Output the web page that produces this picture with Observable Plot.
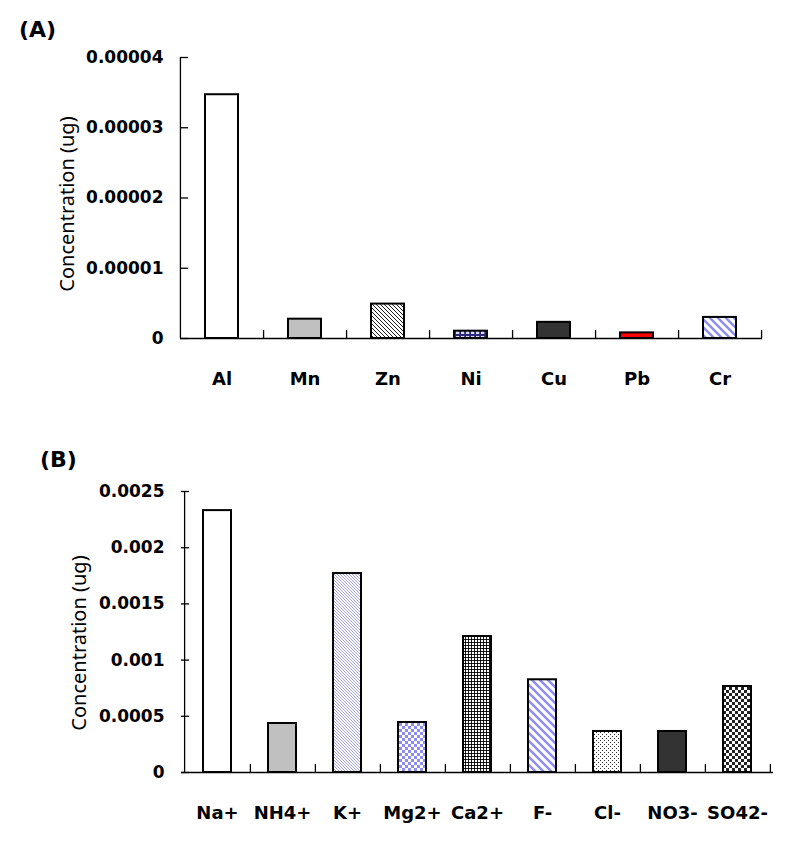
<!DOCTYPE html>
<html><head><meta charset="utf-8">
<script src="https://cdn.jsdelivr.net/npm/d3@7"></script>
<script src="https://cdn.jsdelivr.net/npm/@observablehq/plot@0.6"></script>
<style>
body{margin:0;background:#fff;}
#wrap{position:relative;width:797px;height:848px;overflow:hidden;background:#fff;}
.panel{position:absolute;left:0;}
.tag{position:absolute;font-family:"DejaVu Sans",sans-serif;font-weight:bold;font-size:22px;line-height:1;color:#000;}
</style></head><body>
<div id="wrap">
  <div class="panel" id="pa" style="top:0px"></div>
  <div class="tag" style="left:19px;top:19px">(A)</div>
  <div class="panel" id="pb" style="top:420px"></div>
  <div class="tag" style="left:40px;top:449px">(B)</div>
</div>
<script>
// ---- data ----
const metals = ["Al", "Mn", "Zn", "Ni", "Cu", "Pb", "Cr"];
const metalValues = [0.0000347, 0.00000275, 0.0000049, 0.00000104, 0.0000023, 0.0000008, 0.000003];
const metalTicks = [0, 0.00001, 0.00002, 0.00003, 0.00004];

const ions = ["Na+", "NH4+", "K+", "Mg2+", "Ca2+", "F-", "Cl-", "NO3-", "SO42-"];
const ionValues = [0.00233, 0.000436, 0.00177, 0.000445, 0.00121, 0.000825, 0.000365, 0.000365, 0.000765];
const ionTicks = [0, 0.0005, 0.001, 0.0015, 0.002, 0.0025];

const yLabel = "Concentration (ug)";

// ---- styles (fills per category) ----
const metalFill = {
  "Al": "white", "Mn": "#c0c0c0", "Zn": "url(#pHatchFine)", "Ni": "url(#pNi)",
  "Cu": "#333333", "Pb": "#ff0000", "Cr": "url(#pHatchBlue)"
};
const ionFill = {
  "Na+": "white", "NH4+": "#c0c0c0", "K+": "url(#pHatchLav)", "Mg2+": "url(#pCheckBlue)",
  "Ca2+": "url(#pGrid)", "F-": "url(#pHatchBlue)", "Cl-": "url(#pDots)", "NO3-": "#333333",
  "SO42-": "url(#pCheckBlack)"
};

function addDefs(svg) {
  const defs = d3.select(svg).insert("defs", ":first-child");
  let p = defs.append("pattern").attr("id", "pHatchFine").attr("patternUnits", "userSpaceOnUse").attr("width", 4).attr("height", 4);
  p.append("rect").attr("width", 4).attr("height", 4).attr("fill", "white");
  p.append("path").attr("d", "M0,0L4,4M-1,3L1,5M3,-1L5,1").attr("stroke", "#000").attr("stroke-width", 0.9);
  p = defs.append("pattern").attr("id", "pNi").attr("patternUnits", "userSpaceOnUse").attr("width", 5).attr("height", 5);
  p.append("rect").attr("width", 5).attr("height", 5).attr("fill", "#2a2a78");
  p.append("rect").attr("x", 1).attr("y", 1).attr("width", 3.2).attr("height", 3).attr("fill", "#dcdcff");
  p = defs.append("pattern").attr("id", "pHatchBlue").attr("patternUnits", "userSpaceOnUse").attr("width", 8).attr("height", 8);
  p.append("rect").attr("width", 8).attr("height", 8).attr("fill", "white");
  p.append("path").attr("d", "M0,0L8,8M-2,6L2,10M6,-2L10,2").attr("stroke", "#8c8cf5").attr("stroke-width", 2.4);
  p = defs.append("pattern").attr("id", "pHatchLav").attr("patternUnits", "userSpaceOnUse").attr("width", 3).attr("height", 3);
  p.append("rect").attr("width", 3).attr("height", 3).attr("fill", "white");
  p.append("path").attr("d", "M0,0L3,3M-1,2L1,4M2,-1L4,1").attr("stroke", "#8a8ae6").attr("stroke-width", 0.8);
  p = defs.append("pattern").attr("id", "pCheckBlue").attr("patternUnits", "userSpaceOnUse").attr("width", 6).attr("height", 6);
  p.append("rect").attr("width", 6).attr("height", 6).attr("fill", "white");
  p.append("path").attr("d", "M0,0h3v3h-3zM3,3h3v3h-3z").attr("fill", "#8c8cf5");
  p = defs.append("pattern").attr("id", "pGrid").attr("patternUnits", "userSpaceOnUse").attr("width", 3).attr("height", 3);
  p.append("rect").attr("width", 3).attr("height", 3).attr("fill", "white");
  p.append("path").attr("d", "M0,0.5H3M0.5,0V3").attr("stroke", "#000").attr("stroke-width", 0.9);
  p = defs.append("pattern").attr("id", "pDots").attr("patternUnits", "userSpaceOnUse").attr("width", 4).attr("height", 4);
  p.append("rect").attr("width", 4).attr("height", 4).attr("fill", "white");
  p.append("path").attr("d", "M0,0h1v1h-1zM2,2h1v1h-1z").attr("fill", "#333");
  p = defs.append("pattern").attr("id", "pCheckBlack").attr("patternUnits", "userSpaceOnUse").attr("width", 6).attr("height", 6);
  p.append("rect").attr("width", 6).attr("height", 6).attr("fill", "white");
  p.append("path").attr("d", "M0,0h3v3h-3zM3,3h3v3h-3z").attr("fill", "#222");
}

function panel({cats, vals, ticks, fills, width, height, ml, mr, mt, mb, pad, labelDx, labelDy}) {
  const n = cats.length;
  const step = (width - ml - mr) / n;
  const ymax = ticks[ticks.length - 1];
  const data = cats.map((c, i) => ({c, v: vals[i]}));
  const svg = Plot.plot({
    width, height,
    marginLeft: ml, marginRight: mr, marginTop: mt, marginBottom: mb,
    style: {fontFamily: "'DejaVu Sans', sans-serif", fontSize: "17px", color: "black", background: "white", overflow: "visible"},
    x: {domain: cats, paddingInner: pad, paddingOuter: pad / 2, label: null},
    y: {domain: [0, ymax], label: null},
    color: {type: "identity"},
    marks: [
      Plot.barY(data, {x: "c", y: "v", fill: d => fills[d.c], stroke: "black", strokeWidth: 2}),
      Plot.ruleY([0], {stroke: "black", strokeWidth: 1.3}),
      Plot.ruleX([cats[0]], {dx: -step / 2, y1: 0, y2: ymax, stroke: "black", strokeWidth: 1.3}),
      Plot.ruleX(cats, {dx: step / 2, y1: 0, y2: 0, insetTop: -8, stroke: "black", strokeWidth: 1.3}),
      Plot.axisY({ticks, tickFormat: d => d === 0 ? "0" : String(d), tickSize: -8, tickPadding: 25,
        fontWeight: "bold", label: null, strokeWidth: 1.3}),
      Plot.axisX({tickSize: 0, tickPadding: 34, fontWeight: "bold", fontSize: 18, label: null}),
      Plot.text([yLabel], {text: d => d, frameAnchor: "left", textAnchor: "middle", rotate: -90, dx: labelDx, dy: labelDy,
        fontFamily: "'Noto Sans', sans-serif", fontSize: 20, fill: "black"})
    ]
  });
  addDefs(svg);
  return svg;
}

document.getElementById("pa").append(panel({
  cats: metals, vals: metalValues, ticks: metalTicks, fills: metalFill,
  width: 797, height: 420, ml: 180, mr: 35, mt: 57, mb: 82, pad: 0.6, labelDx: -113, labelDy: 6
}));
document.getElementById("pb").append(panel({
  cats: ions, vals: ionValues, ticks: ionTicks, fills: ionFill,
  width: 797, height: 428, ml: 181, mr: 24, mt: 71, mb: 76, pad: 0.57, labelDx: -102, labelDy: 11
}));
</script>
</body></html>
